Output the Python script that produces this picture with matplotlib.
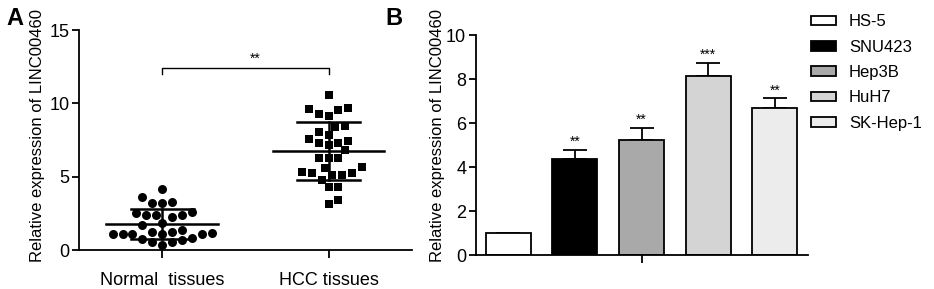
import numpy as np
import matplotlib
matplotlib.use("Agg")
import matplotlib.pyplot as plt
from matplotlib.patches import Patch

plt.rcParams['font.family'] = ['Liberation Sans', 'DejaVu Sans']

# panel A: relative expression per sample
groups = ["Normal  tissues", "HCC tissues"]
normal = [4.14, 3.64, 3.23, 3.25, 3.21, 2.61, 2.39, 2.41, 2.37, 2.50, 2.27,
          1.70, 1.82, 1.09, 1.25, 1.14, 1.10, 1.08, 1.11, 1.26, 1.07, 1.36,
          0.73, 0.57, 0.80, 0.58, 0.68, 0.34]
hcc = [10.57, 9.66, 9.55, 9.64, 9.13, 9.25, 8.40, 8.45, 8.07, 7.84, 7.57,
       7.43, 7.32, 7.27, 7.16, 6.82, 6.25, 6.24, 6.29, 5.68, 5.57, 5.11,
       5.34, 5.23, 5.22, 5.10, 4.32, 4.27, 4.77, 3.14, 3.41]

# panel B: cell lines
cells = ["HS-5", "SNU423", "Hep3B", "HuH7", "SK-Hep-1"]
expr = [1.0, 4.36, 5.21, 8.14, 6.70]
err = [0.0, 0.41, 0.56, 0.60, 0.42]
stars = ["", "**", "**", "***", "**"]
bar_colors = ["white", "black", "#a9a9a9", "#d4d4d4", "#ececec"]


def swarm(vals, center, px_x, px_y, dmin=9.5, step=3.3):
    vals = np.asarray(vals)
    xs = np.zeros(len(vals))
    placed = []
    for n, i in enumerate(np.argsort(vals)):
        y = vals[i] * px_y
        sgn = 1 if n % 2 else -1
        cands = [0.0]
        for k in range(1, 60):
            cands += [sgn * k * step, -sgn * k * step]
        for c in cands:
            if all((c - px) ** 2 + (y - py) ** 2 >= dmin ** 2 for px, py in placed):
                break
        placed.append((c, y))
        xs[i] = center + c / px_x
    return xs


fig = plt.figure(figsize=(9.34, 2.89), dpi=100)

# ---- panel A
axA = fig.add_axes([0.0846, 0.1349, 0.3562, 0.7612])
px_x = 0.3562 * 934 / 2.0
px_y = 0.7612 * 289 / 15.0
for i, (vals, mk, sz) in enumerate([(normal, "o", 42), (hcc, "s", 40)]):
    xs = swarm(vals, i, px_x, px_y)
    axA.scatter(xs, vals, marker=mk, s=sz, color="black", linewidths=0, zorder=3)
    m, sd = np.mean(vals), np.std(vals, ddof=1)
    axA.plot([i - 0.335, i + 0.335], [m, m], color="black", lw=1.8, zorder=4)
    axA.plot([i, i], [m - sd, m + sd], color="black", lw=1.8, zorder=4)
    for v in (m - sd, m + sd):
        axA.plot([i - 0.19, i + 0.19], [v, v], color="black", lw=1.8, zorder=4)

axA.plot([0, 0, 1, 1], [12.0, 12.4, 12.4, 12.0], color="black", lw=1.0)
axA.text(0.56, 12.55, "**", ha="center", va="bottom", fontsize=10)

axA.set_xlim(-0.5, 1.5)
axA.set_ylim(0, 15)
axA.set_yticks([0, 5, 10, 15])
axA.set_xticks([0, 1])
axA.set_xticklabels(groups)
axA.set_ylabel("Relative expression of LINC00460", fontsize=12)
axA.yaxis.set_label_coords(-0.102, 0.52)

# ---- panel B
axB = fig.add_axes([0.5096, 0.1176, 0.3558, 0.7612])
x = np.arange(len(cells))
bars = axB.bar(x, expr, width=0.675, color=bar_colors, edgecolor="black",
               linewidth=1.3, zorder=2)
axB.errorbar(x, expr, yerr=[np.zeros(len(err)), err], fmt="none", ecolor="black",
             elinewidth=1.3, capsize=8.4, capthick=1.3, zorder=1)
for xi, v, e, s in zip(x, expr, err, stars):
    if s:
        axB.text(xi, v + e + 0.05, s, ha="center", va="bottom", fontsize=10)

axB.set_xlim(-0.485, 4.5)
axB.set_ylim(0, 10)
axB.set_yticks([0, 2, 4, 6, 8, 10])
axB.set_xticks([2])
axB.set_xticklabels([""])
axB.set_ylabel("Relative expression of LINC00460", fontsize=12)
axB.yaxis.set_label_coords(-0.093, 0.543)

handles = [Patch(facecolor=c, edgecolor="black", linewidth=1.3) for c in bar_colors]
fig.legend(handles, cells, loc="upper left", bbox_to_anchor=(0.868, 0.95),
           frameon=False, fontsize=12, handlelength=1.5, handleheight=0.5,
           handletextpad=0.8, labelspacing=0.62, borderpad=0, borderaxespad=0)

for ax in (axA, axB):
    for side in ("top", "right"):
        ax.spines[side].set_visible(False)
    for side in ("left", "bottom"):
        ax.spines[side].set_linewidth(1.3)
    ax.tick_params(axis="y", length=5, width=1.3, pad=2, labelsize=13)
    ax.tick_params(axis="x", length=6, width=1.3, pad=10, labelsize=13)

fig.text(0.007, 0.975, "A", fontsize=17, fontweight="bold", va="top")
fig.text(0.413, 0.975, "B", fontsize=17, fontweight="bold", va="top")

fig.savefig("out.png", dpi=100)
